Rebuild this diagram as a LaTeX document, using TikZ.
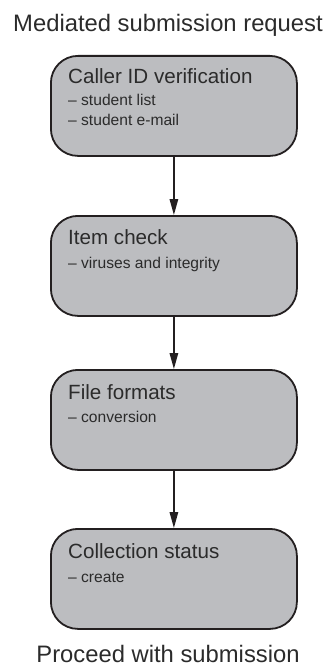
\documentclass[tikz,border=0pt]{standalone}
\usepackage{fontspec}
\setmainfont{Liberation Sans}
\usetikzlibrary{arrows.meta}
\definecolor{boxfill}{HTML}{BCBDC0}
\definecolor{boxline}{HTML}{231F20}
\definecolor{txt}{HTML}{2B2B2B}
\begin{document}
\begin{tikzpicture}[x=1pt,y=-1pt,
  stepbox/.style={draw=boxline, fill=boxfill, line width=1.8pt, rounded corners=27pt,
    minimum width=246pt, minimum height=100pt, inner sep=0pt, anchor=north west},
  head/.style={font=\fontsize{20.6}{22}\selectfont, text=txt, anchor=base west, inner sep=0pt},
  subline/.style={font=\fontsize{15.6}{17}\selectfont, text=txt, anchor=base west, inner sep=0pt},
  endtext/.style={font=\fontsize{23.8}{26}\selectfont, text=txt, anchor=base, inner sep=0pt},
  flow/.style={draw=boxline, line width=1.5pt, -{Triangle[length=16pt,width=8.5pt]}}]
\useasboundingbox (0,0) rectangle (328,666);

\node[endtext] (start) at (168,32) {Mediated submission request};

\node[stepbox] (b1) at (50,55) {};
\node[head] (b1t) at (68,84) {Caller ID verification};
\node[subline] (b1a) at (68,106) {– student list};
\node[subline] (b1b) at (68,125) {– student e-mail};

\node[stepbox] (b2) at (50,215) {};
\node[head] (b2t) at (68,244) {Item check};
\node[subline] (b2a) at (68,268) {– viruses and integrity};

\node[stepbox] (b3) at (50,369) {};
\node[head] (b3t) at (68,399) {File formats};
\node[subline] (b3a) at (68,422) {– conversion};

\node[stepbox] (b4) at (50,528) {};
\node[head] (b4t) at (68,558) {Collection status};
\node[subline] (b4a) at (68,582) {– create};

\node[endtext] (finish) at (168,662) {Proceed with submission};

\draw[flow] (b1.south) -- (b2.north);
\draw[flow] (b2.south) -- (b3.north);
\draw[flow] (b3.south) -- (b4.north);
\end{tikzpicture}
\end{document}
